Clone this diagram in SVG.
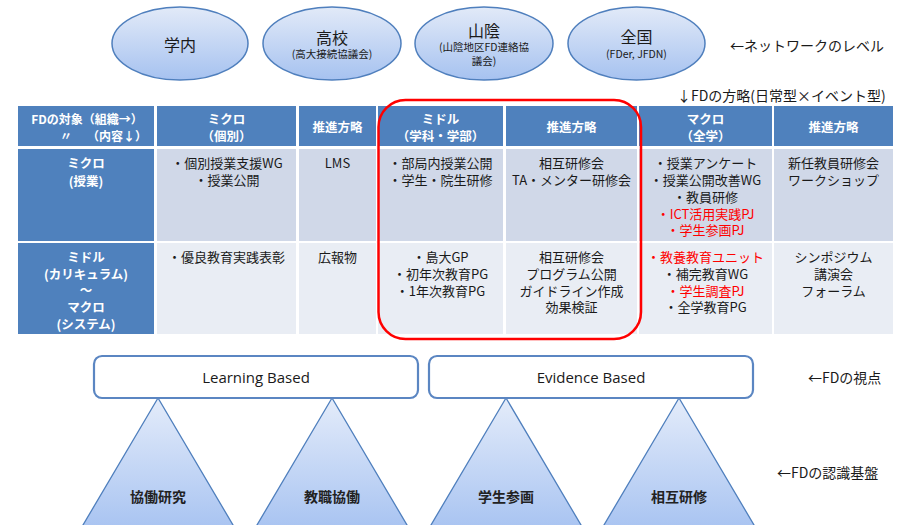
<svg xmlns="http://www.w3.org/2000/svg" width="908" height="525" viewBox="0 0 908 525">
<defs>
<linearGradient id="gEll" x1="0" y1="0" x2="0" y2="1">
<stop offset="0" stop-color="#e2eaf8"/>
<stop offset="1" stop-color="#a6c2f0"/>
</linearGradient>
<linearGradient id="gTri" x1="0" y1="0" x2="0" y2="1">
<stop offset="0" stop-color="#e4ecfa"/>
<stop offset="1" stop-color="#a0bef0"/>
</linearGradient>
<style>
text{font-family:"Noto Sans CJK JP","Liberation Sans",sans-serif;fill:#1a1a1a;text-anchor:middle;dominant-baseline:central}
.ell{fill:url(#gEll);stroke:#4f7fbd;stroke-width:1.5}
.tri{fill:url(#gTri);stroke:#4f7fbd;stroke-width:1.3}
.box{fill:#ffffff;stroke:#5b86c2;stroke-width:2.2}
.hd{fill:#4f81bd}
.r1{fill:#d0d8e8}
.r2{fill:#e9edf4}
.ht{fill:#ffffff;font-weight:bold;font-size:12.5px}
.bt{font-size:13px}
.red{fill:#ff0000}
.big{font-size:16px}
.sm{font-size:10.5px}
.note{font-size:14px;text-anchor:start}
.lat{font-family:"Open Sans","Liberation Sans",sans-serif;font-size:15px}
.tl{font-size:14px;font-weight:bold;fill:#222}
</style>
</defs>
<rect width="908" height="525" fill="#ffffff"/>

<g id="node-gakunai">
<ellipse class="ell" cx="180" cy="43.5" rx="68" ry="36.5"/>
<text class="big" x="180" y="44">学内</text>
</g>
<g id="node-koukou">
<ellipse class="ell" cx="332" cy="43.5" rx="69" ry="36.5"/>
<text class="big" x="332" y="37">高校</text>
<text class="sm" x="332" y="53">(高大接続協議会)</text>
</g>
<g id="node-sanin">
<ellipse class="ell" cx="484" cy="43.5" rx="69" ry="36.5"/>
<text class="big" x="484" y="30">山陰</text>
<text class="sm" x="484" y="46">(山陰地区FD連絡協</text>
<text class="sm" x="484" y="60">議会)</text>
</g>
<g id="node-zenkoku">
<ellipse class="ell" cx="636.5" cy="43.5" rx="68.5" ry="36.5"/>
<text class="big" x="636.5" y="36">全国</text>
<text class="sm" x="636.5" y="53">(FDer, JFDN)</text>
</g>
<text class="note" x="730" y="45">←ネットワークのレベル</text>
<text class="note" x="677" y="95">↓FDの方略(日常型×イベント型)</text>

<g id="table">
<g id="header">
<rect class="hd" x="18" y="106" width="136" height="40"/>
<rect class="hd" x="157" y="106" width="139" height="40"/>
<rect class="hd" x="299" y="106" width="77" height="40"/>
<rect class="hd" x="378" y="106" width="125" height="40"/>
<rect class="hd" x="506" y="106" width="131" height="40"/>
<rect class="hd" x="639" y="106" width="133" height="40"/>
<rect class="hd" x="774" y="106" width="119" height="40"/>
<text class="ht" x="87" y="118" style="font-size:12px">FDの対象（組織→）</text>
<text class="ht" x="66" y="135" style="font-size:12px">〃</text>
<text class="ht" x="117" y="135" style="font-size:12px">（内容↓）</text>
<text class="ht" x="226.5" y="118">ミクロ</text>
<text class="ht" x="226.5" y="135">（個別）</text>
<text class="ht" x="337.5" y="126">推進方略</text>
<text class="ht" x="440.5" y="118">ミドル</text>
<text class="ht" x="440.5" y="135">（学科・学部）</text>
<text class="ht" x="571.5" y="126">推進方略</text>
<text class="ht" x="705.5" y="118">マクロ</text>
<text class="ht" x="705.5" y="135">（全学）</text>
<text class="ht" x="833.5" y="126">推進方略</text>
</g>
<g id="row-micro">
<rect class="hd" x="18" y="149" width="136" height="92"/>
<rect class="r1" x="157" y="149" width="139" height="92"/>
<rect class="r1" x="299" y="149" width="77" height="92"/>
<rect class="r1" x="378" y="149" width="125" height="92"/>
<rect class="r1" x="506" y="149" width="131" height="92"/>
<rect class="r1" x="639" y="149" width="133" height="92"/>
<rect class="r1" x="774" y="149" width="119" height="92"/>
<text class="ht" x="86" y="162">ミクロ</text>
<text class="ht" x="86" y="180">(授業)</text>
<text class="bt" x="227" y="162">・個別授業支援WG</text>
<text class="bt" x="227" y="179">・授業公開</text>
<text class="bt" x="337.5" y="162">LMS</text>
<text class="bt" x="440.5" y="162">・部局内授業公開</text>
<text class="bt" x="440.5" y="179">・学生・院生研修</text>
<text class="bt" x="571.5" y="162">相互研修会</text>
<text class="bt" x="571.5" y="179">TA・メンター研修会</text>
<text class="bt" x="705.5" y="162">・授業アンケート</text>
<text class="bt" x="705.5" y="179">・授業公開改善WG</text>
<text class="bt" x="705.5" y="196">・教員研修</text>
<text class="bt red" x="705.5" y="213">・ICT活用実践PJ</text>
<text class="bt red" x="705.5" y="229">・学生参画PJ</text>
<text class="bt" x="833.5" y="162">新任教員研修会</text>
<text class="bt" x="833.5" y="179">ワークショップ</text>
</g>
<g id="row-middle">
<rect class="hd" x="18" y="243" width="136" height="91"/>
<rect class="r2" x="157" y="243" width="139" height="91"/>
<rect class="r2" x="299" y="243" width="77" height="91"/>
<rect class="r2" x="378" y="243" width="125" height="91"/>
<rect class="r2" x="506" y="243" width="131" height="91"/>
<rect class="r2" x="639" y="243" width="133" height="91"/>
<rect class="r2" x="774" y="243" width="119" height="91"/>
<text class="ht" x="86" y="256">ミドル</text>
<text class="ht" x="86" y="273">(カリキュラム)</text>
<text class="ht" x="86" y="289">～</text>
<text class="ht" x="86" y="306">マクロ</text>
<text class="ht" x="86" y="323">(システム)</text>
<text class="bt" x="226.5" y="256">・優良教育実践表彰</text>
<text class="bt" x="337.5" y="256">広報物</text>
<text class="bt" x="440.5" y="256">・島大GP</text>
<text class="bt" x="440.5" y="273">・初年次教育PG</text>
<text class="bt" x="440.5" y="290">・1年次教育PG</text>
<text class="bt" x="571.5" y="256">相互研修会</text>
<text class="bt" x="571.5" y="273">プログラム公開</text>
<text class="bt" x="571.5" y="290">ガイドライン作成</text>
<text class="bt" x="571.5" y="306">効果検証</text>
<text class="bt red" x="705.5" y="256">・教養教育ユニット</text>
<text class="bt" x="705.5" y="273">・補完教育WG</text>
<text class="bt red" x="705.5" y="290">・学生調査PJ</text>
<text class="bt" x="705.5" y="306">・全学教育PG</text>
<text class="bt" x="833.5" y="256">シンポジウム</text>
<text class="bt" x="833.5" y="273">講演会</text>
<text class="bt" x="833.5" y="290">フォーラム</text>
</g>
</g>

<g id="highlight">
<rect x="378.5" y="100" width="262.5" height="239" rx="27" ry="27" fill="none" stroke="#ff0000" stroke-width="2.5"/>
</g>

<g id="connectors"></g>

<g id="tri-kyodo">
<polygon class="tri" points="158,398 70,547 246,547"/>
<text class="tl" x="158" y="496">協働研究</text>
</g>
<g id="tri-kyoshoku">
<polygon class="tri" points="332,398 244,547 420,547"/>
<text class="tl" x="332" y="496">教職協働</text>
</g>
<g id="tri-gakusei">
<polygon class="tri" points="506,398 418,547 594,547"/>
<text class="tl" x="506" y="496">学生参画</text>
</g>
<g id="tri-sougo">
<polygon class="tri" points="679,398 591,547 767,547"/>
<text class="tl" x="679" y="496">相互研修</text>
</g>

<g id="box-learning">
<rect class="box" x="94" y="356" width="324" height="42" rx="8" ry="8"/>
<text class="lat" x="256" y="377">Learning Based</text>
</g>
<g id="box-evidence">
<rect class="box" x="429" y="356" width="324" height="42" rx="8" ry="8"/>
<text class="lat" x="591" y="377">Evidence Based</text>
</g>
<text class="note" x="808" y="377">←FDの視点</text>
<text class="note" x="777" y="472">←FDの認識基盤</text>
</svg>
